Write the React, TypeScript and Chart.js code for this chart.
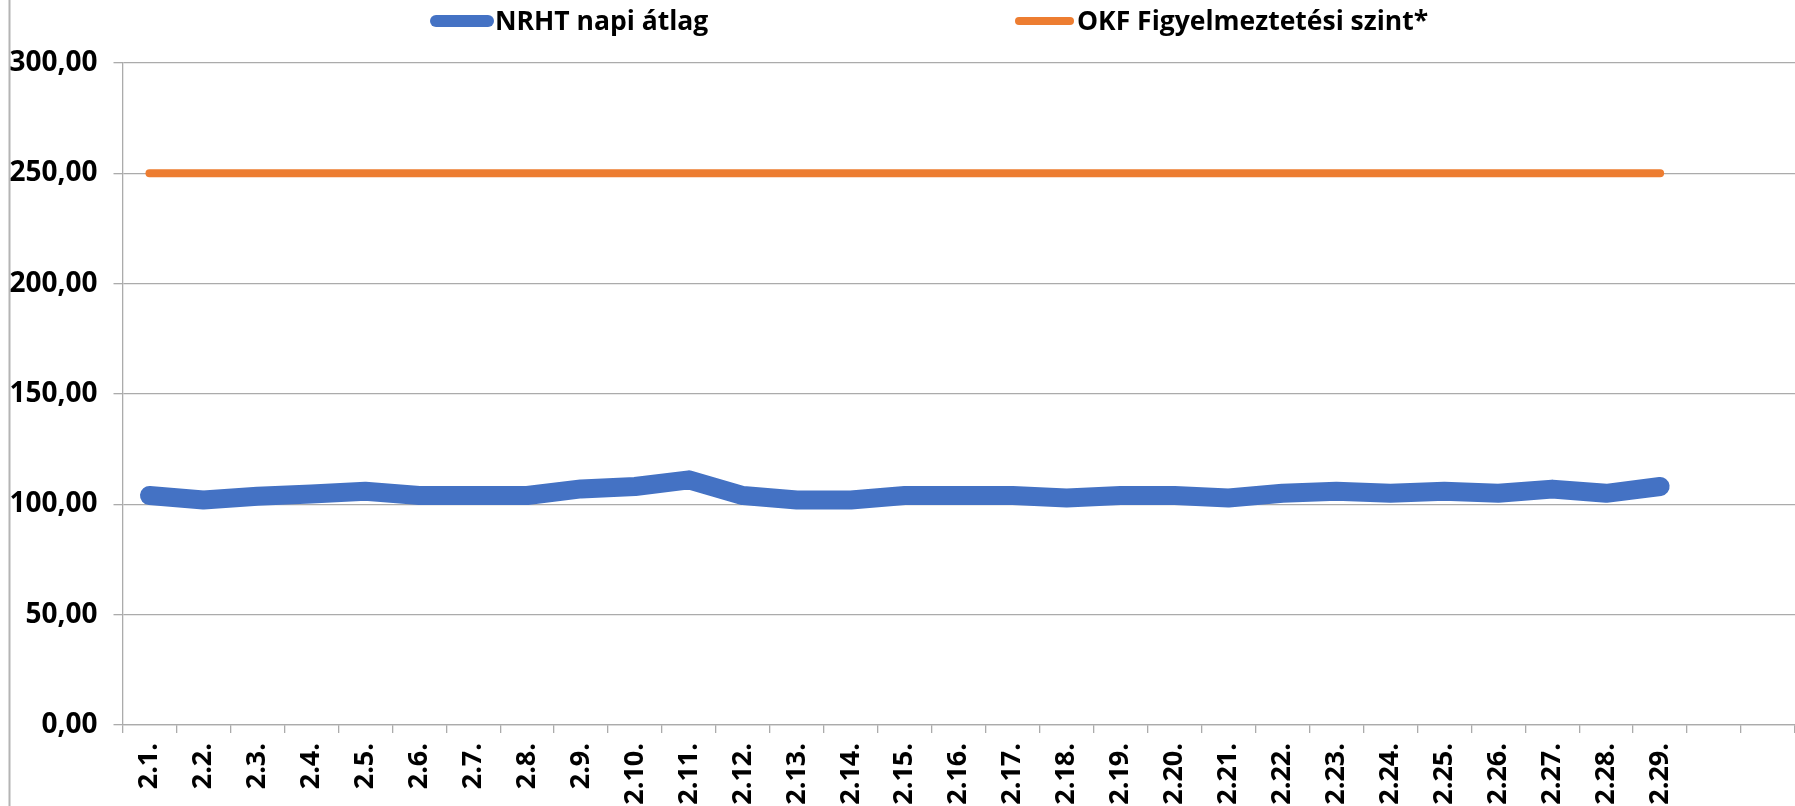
import React, { useEffect, useRef } from "react";
import { Chart, registerables } from "chart.js";

Chart.register(...registerables);

const categories = [
  "2.1.", "2.2.", "2.3.", "2.4.", "2.5.", "2.6.", "2.7.", "2.8.", "2.9.", "2.10.",
  "2.11.", "2.12.", "2.13.", "2.14.", "2.15.", "2.16.", "2.17.", "2.18.", "2.19.", "2.20.",
  "2.21.", "2.22.", "2.23.", "2.24.", "2.25.", "2.26.", "2.27.", "2.28.", "2.29.", "", "",
];

const nrhtValues = [
  104.0, 102.0, 103.7, 104.7, 105.9, 104.0, 104.0, 104.0, 107.0, 108.1,
  111.1, 104.0, 102.0, 102.0, 104.0, 104.0, 104.0, 102.9, 104.0, 104.0,
  102.9, 105.0, 105.9, 105.0, 105.9, 105.0, 106.9, 105.0, 108.1,
];

const okfValues = [
  250, 250, 250, 250, 250, 250, 250, 250, 250, 250,
  250, 250, 250, 250, 250, 250, 250, 250, 250, 250,
  250, 250, 250, 250, 250, 250, 250, 250, 250,
];

const seriesNames = ["NRHT napi átlag", "OKF Figyelmeztetési szint*"];
const yMin = 0;
const yMax = 300;
const yStep = 50;

const FONT = "'Open Sans', 'Noto Sans', sans-serif";

const legendPlugin = {
  id: "customLegend",
  afterDraw(chart: any) {
    const ctx = chart.ctx;
    const layout = [
      { x0: 436, x1: 488, w: 12, textX: 495 },
      { x0: 1019, x1: 1070, w: 8, textX: 1077 },
    ];
    ctx.save();
    chart.data.datasets.forEach((ds: any, i: number) => {
      const l = layout[i];
      ctx.beginPath();
      ctx.lineCap = "round";
      ctx.strokeStyle = ds.borderColor;
      ctx.lineWidth = l.w;
      ctx.moveTo(l.x0, 21);
      ctx.lineTo(l.x1, 21);
      ctx.stroke();
      ctx.fillStyle = "#000";
      ctx.font = `bold 26.5px ${FONT}`;
      ctx.textAlign = "left";
      ctx.textBaseline = "alphabetic";
      ctx.fillText(ds.label, l.textX, 30);
    });
    ctx.restore();
  },
};

const borderPlugin = {
  id: "leftBorder",
  beforeDraw(chart: any) {
    const ctx = chart.ctx;
    ctx.save();
    ctx.strokeStyle = "#b4b4b4";
    ctx.lineWidth = 2;
    ctx.beginPath();
    ctx.moveTo(9.5, 0);
    ctx.lineTo(9.5, chart.height);
    ctx.stroke();
    ctx.restore();
  },
};

export default function App() {
  const ref = useRef<HTMLCanvasElement | null>(null);

  useEffect(() => {
    if (!ref.current) return;
    const chart = new Chart(ref.current, {
      type: "line",
      data: {
        labels: categories,
        datasets: [
          {
            label: seriesNames[0],
            data: nrhtValues,
            borderColor: "#4472C4",
            backgroundColor: "#4472C4",
            borderWidth: 19,
            borderCapStyle: "round",
            borderJoinStyle: "round",
            pointRadius: 0,
            tension: 0,
          },
          {
            label: seriesNames[1],
            data: okfValues,
            borderColor: "#ED7D31",
            backgroundColor: "#ED7D31",
            borderWidth: 8,
            borderCapStyle: "round",
            borderJoinStyle: "round",
            pointRadius: 0,
            tension: 0,
          },
        ],
      },
      options: {
        responsive: false,
        animation: false,
        layout: { padding: { top: 63, left: 0, right: 0, bottom: 0 } },
        plugins: {
          legend: { display: false },
          tooltip: { enabled: false },
        },
        scales: {
          x: {
            offset: true,
            grid: {
              offset: true,
              drawOnChartArea: false,
              drawTicks: true,
              tickLength: 8,
              color: "#ababab",
              lineWidth: 1.3,
            },
            border: { display: true, color: "#ababab", width: 1.3 },
            ticks: {
              autoSkip: false,
              minRotation: 90,
              maxRotation: 90,
              padding: 10,
              color: "#000",
              font: { family: FONT, weight: "bold", size: 27 },
            },
            afterFit: (scale: any) => {
              scale.height = 81;
              scale.paddingLeft = 0;
              scale.paddingRight = 0;
            },
          },
          y: {
            min: yMin,
            max: yMax,
            grid: {
              color: "#ababab",
              lineWidth: 1.3,
              drawTicks: true,
              tickLength: 9,
            },
            border: { display: true, color: "#ababab", width: 1.3 },
            ticks: {
              stepSize: yStep,
              padding: 16,
              color: "#000",
              font: { family: FONT, weight: "bold", size: 28 },
              callback: (v: any) => Number(v).toFixed(2).replace(".", ","),
            },
            afterFit: (scale: any) => {
              scale.width = 122.5;
              scale.paddingTop = 0;
              scale.paddingBottom = 0;
            },
          },
        },
      },
      plugins: [legendPlugin, borderPlugin],
    });
    return () => chart.destroy();
  }, []);

  return (
    <div style={{ position: "absolute", left: 0, top: 0, width: 1795, height: 806, background: "#fff" }}>
      <canvas ref={ref} width={1795} height={806} style={{ display: "block" }} />
    </div>
  );
}
